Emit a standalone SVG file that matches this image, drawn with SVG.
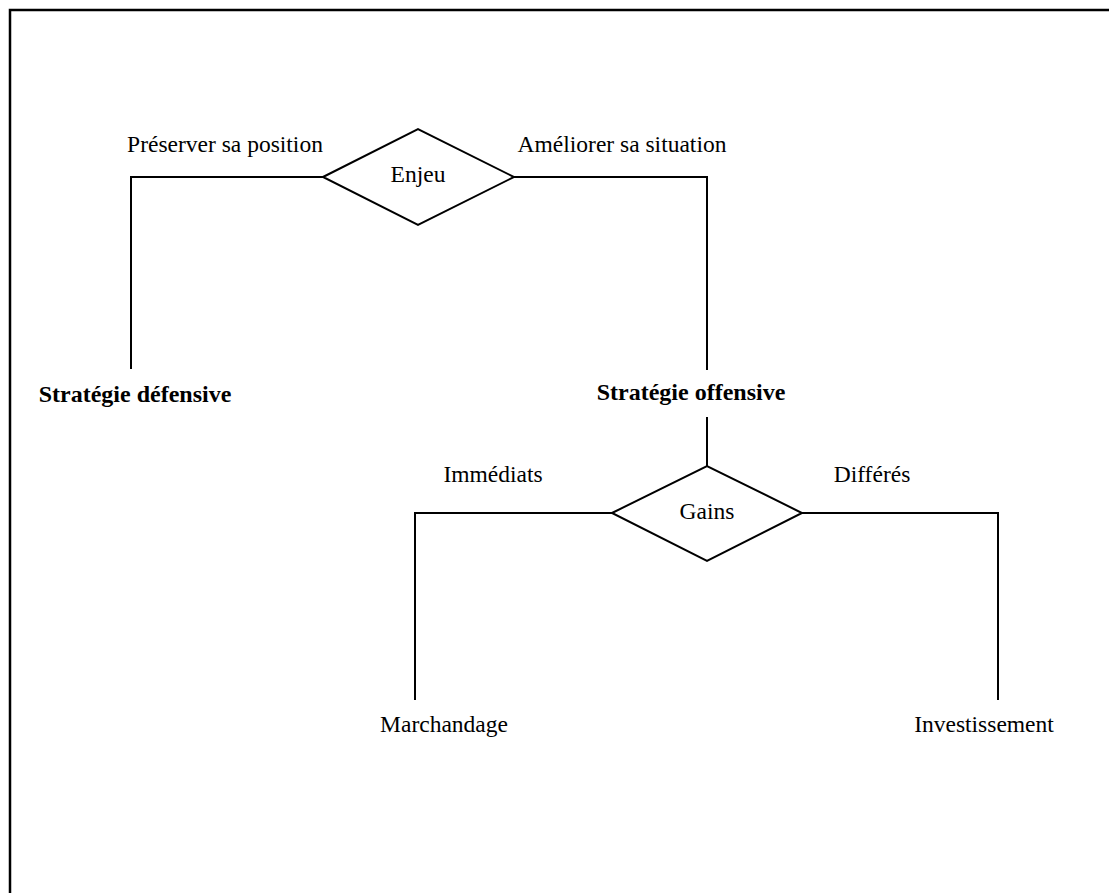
<svg xmlns="http://www.w3.org/2000/svg" width="1109" height="893" viewBox="0 0 1109 893">
<style>
.ln{fill:none;stroke:#000;stroke-width:2}
.dm{fill:#fff;stroke:#000;stroke-width:2}
text{font-family:"Liberation Serif","Times New Roman",serif;font-size:23.5px;fill:#000}
.b{font-weight:bold;font-size:24px}
</style>
<rect width="1109" height="893" fill="#fff"/>
<path class="ln" d="M10,893 V10 H1109" style="stroke-width:2.5"/>
<g id="connectors">
<path class="ln" d="M323,177 H131 V369"/>
<path class="ln" d="M514,177 H707 V370"/>
<path class="ln" d="M707,417 V466"/>
<path class="ln" d="M612,513 H415 V700"/>
<path class="ln" d="M802,513 H998 V700"/>
</g>
<g id="labels">
<text x="225" y="152" text-anchor="middle">Préserver sa position</text>
<text x="622" y="152" text-anchor="middle">Améliorer sa situation</text>
<text x="493" y="482" text-anchor="middle">Immédiats</text>
<text x="872" y="482" text-anchor="middle">Différés</text>
</g>
<g id="enjeu">
<polygon class="dm" points="323,177 418,129 514,177 418,225"/>
<text x="418" y="182" text-anchor="middle">Enjeu</text>
</g>
<g id="defensive">
<text class="b" x="135" y="402" text-anchor="middle">Stratégie défensive</text>
</g>
<g id="offensive">
<text class="b" x="691" y="400" text-anchor="middle">Stratégie offensive</text>
</g>
<g id="gains">
<polygon class="dm" points="612,513 707,466 802,513 707,561"/>
<text x="707" y="519" text-anchor="middle">Gains</text>
</g>
<g id="marchandage">
<text x="444" y="732" text-anchor="middle">Marchandage</text>
</g>
<g id="investissement">
<text x="984" y="732" text-anchor="middle">Investissement</text>
</g>
</svg>
